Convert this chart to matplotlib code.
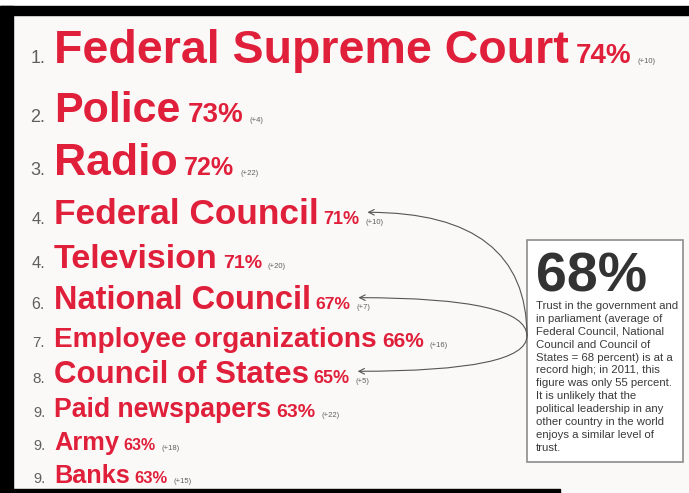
import matplotlib
matplotlib.use("Agg")
import matplotlib.pyplot as plt
from matplotlib.patches import Rectangle

plt.rcParams['font.family'] = ['Liberation Sans', 'DejaVu Sans']

# data
ranks = ['1.', '2.', '3.', '4.', '4.', '6.', '7.', '8.', '9.', '9.', '9.']
names = ['Federal Supreme Court', 'Police', 'Radio', 'Federal Council', 'Television',
         'National Council', 'Employee organizations', 'Council of States',
         'Paid newspapers', 'Army', 'Banks']
trust = [74, 73, 72, 71, 71, 67, 66, 65, 63, 63, 63]
change = [10, 4, 22, 10, 20, 7, 16, 5, 22, 18, 15]
avg_parliament = 68
box_text = ("Trust in the government and\nin parliament (average of\nFederal Council, National\n"
            "Council and Council of\nStates = 68 percent) is at a\nrecord high; in 2011, this\n"
            "figure was only 55 percent.\nIt is unlikely that the\npolitical leadership in any\n"
            "other country in the world\nenjoys a similar level of\ntrust.")
linked = ['Federal Council', 'National Council', 'Council of States']

# layout (pixels, y downwards)
baselines = [63, 122, 175, 224, 268, 309, 347, 383, 417, 450, 483]
name_size = [33.5, 31, 32, 25.4, 24.5, 23.5, 20.2, 22.5, 19.2, 18.3, 18.2]
pct_size = [20, 20, 18, 13, 14, 12.6, 15, 13, 14, 11.5, 12]
rank_size = [13, 13, 13, 12, 12, 11.5, 11, 11, 10.5, 10.5, 10.5]

RED = '#e01f3a'
GRAY = '#5f5f5f'

W, H = 689, 493
fig = plt.figure(figsize=(W / 100, H / 100), dpi=100)
fig.patch.set_facecolor('white')
ax = fig.add_axes([0, 0, 1, 1])
ax.set_xlim(0, W)
ax.set_ylim(H, 0)
ax.axis('off')

# page and black frame
ax.add_patch(Rectangle((0, 0), W, H, color='#fbf9f8', zorder=0))
ax.add_patch(Rectangle((0, 0), W, 6, color='white', zorder=1))
ax.add_patch(Rectangle((0, 6), W, 9, color='black', zorder=1))
ax.add_patch(Rectangle((0, 6), 13, 487, color='black', zorder=1))
ax.add_patch(Rectangle((0, 489), 560, 4, color='black', zorder=1))

fig.canvas.draw()
renderer = fig.canvas.get_renderer()
inv = ax.transData.inverted()


def right_edge(t):
    bb = t.get_window_extent(renderer)
    return inv.transform((bb.x1, bb.y0))[0]


anchors = {}
for i in range(len(names)):
    y = baselines[i]
    ax.text(45, y, ranks[i], fontsize=rank_size[i], color=GRAY, ha='right', va='baseline')
    t1 = ax.text(54, y, names[i], fontsize=name_size[i], fontweight='bold', color=RED,
                 va='baseline')
    x1 = right_edge(t1) + 0.35 * pct_size[i]
    t2 = ax.text(x1, y, f'{trust[i]}%', fontsize=pct_size[i], fontweight='bold', color=RED,
                 va='baseline')
    x2 = right_edge(t2) + 6
    ax.text(x2, y, f'(+{change[i]})', fontsize=5.5, color=GRAY, va='baseline')
    anchors[names[i]] = (x2 + 2, y - pct_size[i] * 0.9)

# info box
bx0, by0, bx1, by1 = 527, 240, 683, 462
ax.add_patch(Rectangle((bx0, by0), bx1 - bx0, by1 - by0, facecolor='white',
                       edgecolor='#8c8c8c', lw=1.2, zorder=2))
ax.text(536, 292, f'{avg_parliament}%', fontsize=40, fontweight='bold', color='#333333',
        va='baseline', zorder=3)
ax.text(536, 301, box_text, fontsize=8.2, color='#3a3a3a', va='top', ha='left',
        linespacing=1.36, zorder=3)

# arrows from the box to the parliament rows
start = (bx0, 336)
styles = ['angle3,angleA=90,angleB=0', 'angle3,angleA=90,angleB=0',
          'angle3,angleA=-90,angleB=0']
for nm, cs in zip(linked, styles):
    ax.annotate('', xy=anchors[nm], xytext=start,
                arrowprops=dict(arrowstyle='->', color='#555555', lw=0.8,
                                connectionstyle=cs, shrinkA=0, shrinkB=0), zorder=3)

fig.savefig('out.png', dpi=100)
